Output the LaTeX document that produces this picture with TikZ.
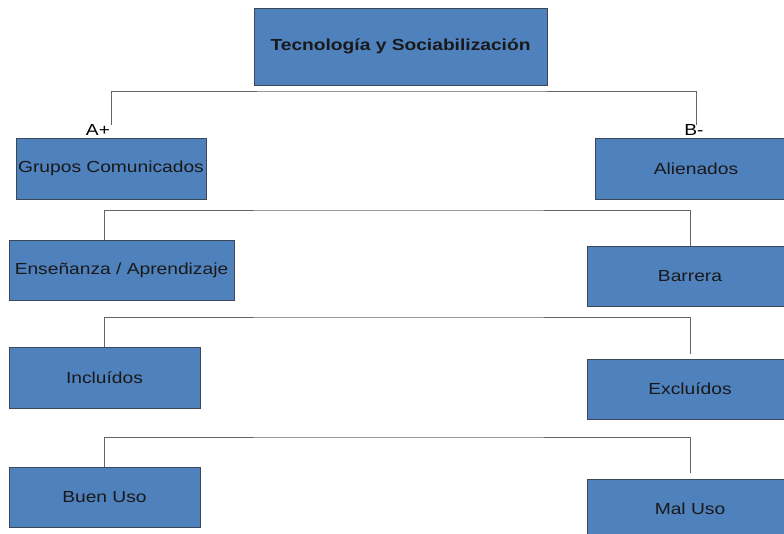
\documentclass[tikz,border=0pt]{standalone}
\usepackage{fontspec}
\setmainfont{Liberation Sans}[FakeStretch=1.2]
\usetikzlibrary{calc}
\definecolor{boxblue}{RGB}{79,129,189}
\definecolor{boxline}{RGB}{60,72,90}
\definecolor{connline}{RGB}{100,100,100}
\tikzset{
  blockbox/.style={draw=boxline, line width=0.8pt, fill=boxblue, text=black!90,
    inner sep=0pt, font=\fontsize{16}{19}\selectfont},
  connector/.style={draw=connline, line width=1pt},
  signlabel/.style={inner sep=0pt, font=\fontsize{16}{19}\selectfont}
}
\begin{document}
\begin{tikzpicture}[x=1pt, y=-1pt]
\useasboundingbox (0,0) rectangle (784,533);
% top level
\node[blockbox, minimum width=293pt, minimum height=77pt, font=\fontsize{16}{19}\selectfont\bfseries] (tecno) at (400.5,46.5) {Tecnología y Sociabilización};
\node[signlabel] (aplus) at (98,130) {A+};
\node[signlabel] (bminus) at (694,130) {B-};
% left column
\node[blockbox, minimum width=190pt, minimum height=61pt] (grupos) at (111,168.5) {Grupos Comunicados};
\node[blockbox, minimum width=225pt, minimum height=60pt] (ensen) at (121.5,270) {Enseñanza / Aprendizaje};
\node[blockbox, minimum width=191pt, minimum height=61pt] (incl) at (104.5,377.5) {Incluídos};
\node[blockbox, minimum width=191pt, minimum height=60pt] (buen) at (104.5,497) {Buen Uso};
% right column
\node[blockbox, minimum width=202pt, minimum height=61pt] (alien) at (696,168.5) {Alienados};
\node[blockbox, minimum width=206pt, minimum height=60pt] (barrera) at (690,276) {Barrera};
\node[blockbox, minimum width=206pt, minimum height=60pt] (excl) at (690,389) {Excluídos};
\node[blockbox, minimum width=206pt, minimum height=60pt] (mal) at (690,509) {Mal Uso};
% junctions
\coordinate (j1) at (400,91);
\coordinate (j2) at (400,210);
\coordinate (j3) at (400,317);
\coordinate (j4) at (400,437);
% connectors
\draw[connector] ([yshift=-1pt]aplus.north -| grupos.north) |- (j1) -| ([yshift=-1pt]bminus.north -| alien.north);
\draw[connector] (ensen.north -| incl.north) |- (j2) -| (barrera.north);
\draw[connector] (incl.north) |- (j3) -| ([yshift=5pt]excl.north);
\draw[connector] (buen.north) |- (j4) -| ([yshift=6pt]mal.north);
\end{tikzpicture}
\end{document}
